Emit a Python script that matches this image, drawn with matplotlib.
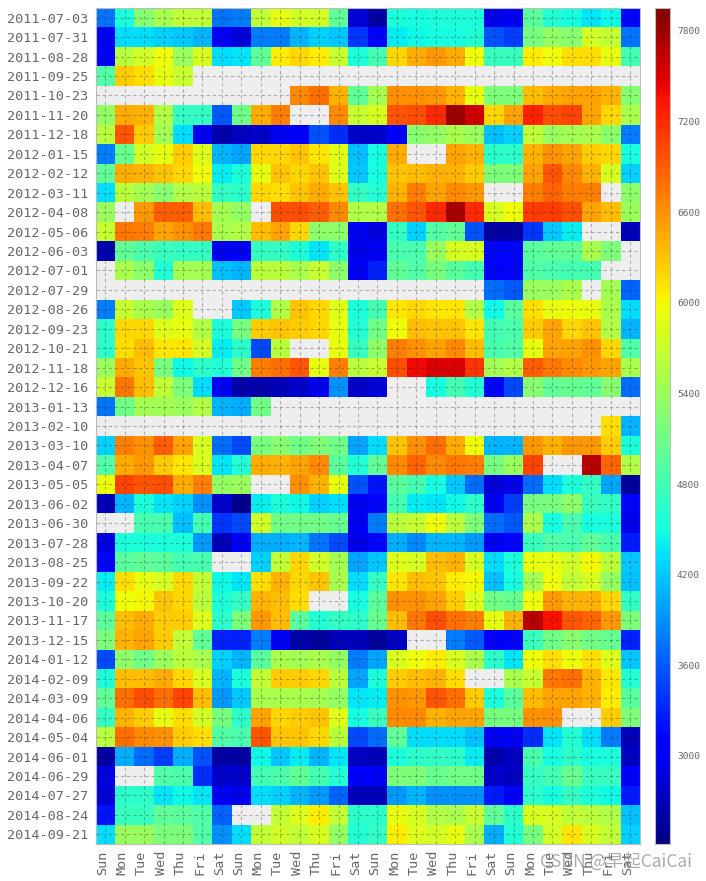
import numpy as np
from matplotlib import pyplot as plt
from matplotlib.transforms import ScaledTranslation

n = np.nan

weekStarts = [
    "2011-07-03", "2011-07-31", "2011-08-28", "2011-09-25", "2011-10-23", "2011-11-20", "2011-12-18",
    "2012-01-15", "2012-02-12", "2012-03-11", "2012-04-08", "2012-05-06", "2012-06-03", "2012-07-01",
    "2012-07-29", "2012-08-26", "2012-09-23", "2012-10-21", "2012-11-18", "2012-12-16", "2013-01-13",
    "2013-02-10", "2013-03-10", "2013-04-07", "2013-05-05", "2013-06-02", "2013-06-30", "2013-07-28",
    "2013-08-25", "2013-09-22", "2013-10-20", "2013-11-17", "2013-12-15", "2014-01-12", "2014-02-09",
    "2014-03-09", "2014-04-06", "2014-05-04", "2014-06-01", "2014-06-29", "2014-07-27", "2014-08-24",
    "2014-09-21",
]
dayLabels = ["Sun", "Mon", "Tue", "Wed", "Thu", "Fri", "Sat"] * 4
cbarTicks = [3000, 3600, 4200, 4800, 5400, 6000, 6600, 7200, 7800]

counts = [
    [3750, 4550, 5250, 5500, 5650, 5650, 3750, 3800, 5650, 5900, 5750, 5750, 5000, 2850, 2600, 4550, 4500, 4550, 4550, 4550, 2950, 3000, 4950, 4600, 4500, 4350, 4450, 3150],
    [3000, 4300, 4300, 4250, 4200, 4100, 3000, 2850, 3800, 3800, 4100, 4250, 4200, 3400, 3050, 4400, 4450, 4500, 4500, 4600, 3550, 3450, 5150, 5350, 5250, 5750, 5650, 3750],
    [3100, 5600, 5750, 5950, 5400, 5800, 4300, 4350, 5000, 6050, 6200, 6050, 5700, 4550, 4800, 6200, 6450, 6550, 6450, 5950, 4750, 4750, 6050, 5950, 6150, 6150, 5900, 4800],
    [4900, 6250, 6150, 5900, 5700, n, n, n, n, n, n, n, n, n, n, n, n, n, n, n, n, n, n, n, n, n, n, n],
    [n, n, n, n, n, n, n, n, n, n, 6650, 6800, 6400, 5000, 5450, 6600, 6600, 6550, 6400, 5900, 5200, 5200, 6350, 6450, 6500, 6500, 6400, 5250],
    [5350, 6450, 6400, 5550, 4700, 4700, 3600, 5100, 6450, 6700, n, n, 6650, 5700, 5800, 6950, 7000, 7200, 7800, 7550, 6200, 6500, 7250, 7000, 7050, 6500, 6200, 5500],
    [5600, 6950, 6250, 5450, 4300, 3000, 2650, 2750, 2800, 3000, 3100, 3550, 3350, 2800, 2800, 3050, 5250, 5350, 5500, 5400, 4150, 4250, 5650, 5400, 5450, 5500, 5300, 3800],
    [3800, 5050, 5750, 5900, 6250, 5850, 4100, 4000, 6200, 6200, 6300, 6100, 5850, 4150, 4500, 6450, n, n, 6500, 6400, 4650, 4650, 6400, 6600, 6500, 6250, 6200, 4500],
    [5000, 6450, 6400, 6300, 6200, 5950, 4400, 4550, 5900, 6300, 6200, 6300, 5850, 4200, 4500, 6300, 6350, 6400, 6400, 6250, 5200, 5200, 6500, 6950, 6650, 6400, 5800, 4250],
    [4300, 5600, 5450, 5250, 5550, 5600, 4700, 4650, 6200, 6150, 6300, 6450, 6300, 4700, 4600, 6400, 6700, 6500, 6650, 6550, n, n, 6700, 6850, 6700, 6700, n, 5300],
    [5400, n, 6550, 6900, 6900, 6350, 5450, 5350, n, 7000, 7000, 6900, 6650, 5550, 5550, 6800, 6950, 7200, 7750, 7200, 5800, 5950, 7100, 7100, 7000, 6500, 6350, 5400],
    [5700, 6750, 6700, 6500, 6600, 6750, 5500, 5550, 6350, 6500, 6200, 5300, 5300, 3000, 2900, 4700, 4250, 4900, 5000, 3550, 2600, 2600, 3400, 4200, 4400, n, n, 2700],
    [2650, 5000, 4850, 4750, 4700, 4700, 3000, 3000, 4700, 4700, 4550, 4350, 4650, 2950, 3000, 4850, 4850, 5400, 5800, 5800, 3150, 3150, 4950, 5000, 5000, 5500, 5200, n],
    [n, 5500, 5300, 4600, 5450, 5450, 4150, 4100, 5600, 5600, 5500, 5700, 5300, 3000, 3300, 5000, 4900, 5150, 4950, 4800, 3100, 3150, 4900, 4850, 4800, 4800, n, n],
    [n, n, n, n, n, n, n, n, n, n, n, n, n, n, n, n, n, n, n, n, 3700, 3600, 5400, 5400, 5500, n, 5450, 3650],
    [3800, 5700, 5500, 5400, 5850, n, n, 4200, 4550, 5550, 6300, 6200, 5850, 4550, 4800, 6100, 6200, 6100, 6100, 5550, 4450, 4950, 6150, 5900, 5950, 5900, 5500, 4300],
    [4650, 6200, 6200, 5850, 5900, 5550, 4550, 5150, 6250, 6300, 6250, 6200, 5900, 4600, 5100, 5950, 6350, 6300, 6300, 6100, 4800, 4850, 6250, 6500, 6200, 6300, 5550, 4100],
    [4650, 6150, 6350, 6100, 6100, 5750, 4400, 4650, 3500, 5600, n, n, 5900, 4750, 5300, 6700, 6600, 6500, 6650, 6350, 4850, 4900, 5900, 6500, 6500, 6600, 6200, 4900],
    [5400, 6450, 6300, 5150, 4450, 4650, 4600, 5100, 6700, 6800, 6950, 5900, 6700, 5600, 5700, 7000, 7400, 7500, 7500, 7150, 5450, 5550, 6900, 6750, 6650, 6550, 6500, 5500],
    [5700, 6750, 6350, 5650, 5200, 4300, 3000, 2650, 2650, 2700, 2800, 2950, 3900, 2800, 2850, n, n, 4500, 4800, 4600, 3150, 3500, 5250, 5000, 5050, 5000, 5250, 3700],
    [3750, 5100, 5450, 5450, 5400, 5550, 4100, 4050, 5100, n, n, n, n, n, n, n, n, n, n, n, n, n, n, n, n, n, n, n],
    [n, n, n, n, n, n, n, n, n, n, n, n, n, n, n, n, n, n, n, n, n, n, n, n, n, n, 6150, 4100],
    [4250, 6700, 6600, 6900, 6500, 5800, 3700, 3500, 5150, 5250, 5100, 5200, 5100, 4000, 4300, 6300, 6600, 6800, 6450, 5950, 4100, 4100, 6550, 6400, 6550, 6550, 6250, 4550],
    [4900, 6450, 6550, 6250, 6100, 5800, 4350, 4600, 6450, 6400, 6500, 6650, 4950, 4600, 5000, 6650, 6850, 6650, 6750, 6700, 5150, 5400, 7050, n, n, 7650, 6850, 5550],
    [5950, 7050, 6950, 7000, 6450, 6700, 5350, 5400, n, n, 6600, 6400, 5900, 3550, 3200, 4950, 4800, 4500, 4200, 3700, 2850, 2950, 3700, 4300, 4550, 4700, 4000, 2550],
    [2700, 4100, 4550, 4350, 4250, 3900, 2800, 2500, 4400, 4550, 4450, 4250, 4300, 3000, 3150, 4800, 4400, 4350, 4450, 4650, 3000, 3450, 5150, 5150, 5300, 4750, 4700, 3150],
    [n, n, 4850, 4850, 4150, 4800, 3400, 3500, 5750, 5100, 5100, 5100, 5050, 3000, 3800, 5600, 5700, 5950, 5600, 5200, 3700, 3600, 5500, 4500, 4850, 4500, 4550, 2950],
    [2900, 4550, 4550, 4550, 4550, 3950, 2700, 3000, 4050, 4050, 4100, 3750, 3500, 2950, 3150, 4050, 3850, 4100, 4100, 3950, 3000, 3150, 4750, 4900, 4850, 5000, 4850, 3250],
    [3150, 4950, 5000, 4950, 4800, 4850, n, n, 4250, 5650, 6200, 5750, 5450, 4000, 4200, 5850, 5800, 6350, 6400, 5800, 4300, 4550, 5900, 5900, 5750, 6000, 5600, 4200],
    [4400, 6150, 5900, 5800, 6200, 5650, 4450, 4350, 6150, 6400, 6200, 6300, 5500, 4300, 4700, 6100, 6350, 6300, 6050, 6000, 4150, 4500, 5450, 5950, 5650, 5800, 5350, 4150],
    [4550, 5950, 6000, 6300, 6200, 5600, 4550, 4700, 6400, 6350, 6150, n, n, 4500, 4950, 6600, 6600, 6500, 6250, 5850, 5100, 5050, 5950, 6550, 6400, 6400, 6200, 4700],
    [4950, 6350, 6450, 6250, 6250, 5850, 4650, 5200, 6550, 6350, 4950, 4600, 4700, 4650, 5050, 6350, 6750, 7000, 6800, 6700, 5900, 6400, 7650, 7350, 6950, 6850, 6550, 5200],
    [5200, 6400, 6500, 6250, 5650, 5000, 3300, 3300, 3800, 3000, 2650, 2550, 2700, 2700, 2550, 2750, n, n, 3800, 3600, 3050, 3100, 4750, 5100, 5250, 5100, 5050, 3300],
    [3500, 5300, 5100, 5400, 5600, 5500, 4250, 4100, 4950, 5500, 5450, 5500, 5350, 3800, 4000, 5800, 5950, 6050, 5800, 5500, 4650, 4350, 5950, 6150, 5950, 6150, 5850, 4200],
    [4550, 6350, 6350, 6450, 6200, 5800, 4100, 4550, 5650, 6250, 6250, 6200, 5600, 4000, 4550, 6250, 6350, 6400, 6150, n, n, 5500, 5700, 6750, 6800, 6400, 6100, 4600],
    [5000, 6800, 7000, 6800, 7050, 6350, 3950, 4200, 5500, 5500, 5500, 5450, 5350, 4350, 4400, 6600, 6550, 6950, 6800, 6250, 4550, 4950, 6350, 6500, 6500, 6400, 6050, 4950],
    [4700, 6400, 6250, 5900, 6150, 5750, 5150, 4650, 6500, 6200, 6250, 6300, 5850, 4500, 4750, 6650, 6650, 6400, 6500, 6500, 5150, 5150, 6600, 6600, n, n, 6250, 5200],
    [5600, 6800, 6650, 6600, 6250, 6150, 4900, 4850, 6950, 6300, 6300, 6200, 5600, 3500, 3700, 5000, 4300, 4300, 4300, 4150, 3000, 3000, 3350, 4350, 4600, 4300, 3800, 2700],
    [2600, 4050, 3700, 3450, 4050, 3550, 2600, 2600, 4450, 4200, 4400, 4100, 4350, 2750, 2700, 4550, 4650, 4700, 4650, 4400, 2650, 2750, 4850, 4500, 4650, 4500, 4550, 2750],
    [2900, n, n, 4900, 4850, 3350, 2800, 2800, 4800, 4850, 5000, 4800, 4600, 3050, 3050, 5200, 5200, 5050, 5100, 5100, 2800, 2750, 4700, 4800, 5050, 4750, 4750, 3100],
    [2850, 4650, 4650, 4350, 4450, 4350, 3000, 2950, 4300, 4250, 4100, 3950, 3650, 2700, 2700, 3950, 4100, 3900, 3900, 3900, 3250, 3100, 4650, 4500, 4700, 4550, 4450, 3250],
    [3200, 4750, 4750, 5000, 4950, 4900, 3650, n, n, 5650, 5850, 6050, 5650, 4650, 4650, 5900, 5800, 5550, 5500, 5700, 5000, 4650, 5800, 5800, 5650, 5600, 5550, 4150],
    [4300, 5400, 5400, 5200, 5200, 4900, 3900, 4300, 5650, 5750, 5650, 5800, 5350, 4600, 4700, 6050, 5850, 5750, 5900, 5500, 4050, 4600, 5150, 5750, 6100, 5800, 5650, 4250],
]

plt.style.use("bmh")
plt.rcParams["font.family"] = ["DejaVu Sans Mono"]

fig = plt.figure(figsize=(7.06, 8.81), dpi=100)
ax = fig.add_axes([95.5 / 706, 1 - 844 / 881, 544.5 / 706, 836 / 881])
cax = fig.add_axes([655 / 706, 1 - 844 / 881, 15 / 706, 836 / 881])

data = np.ma.masked_invalid(np.array(counts, dtype=float))
mesh = ax.pcolormesh(data, cmap="jet", vmin=2417, vmax=7952)
ax.invert_yaxis()
ax.set_xticks(np.arange(len(dayLabels)) + 0.5)
ax.set_xticklabels(dayLabels, rotation=90, fontsize=9.7, color="#666666")
ax.set_yticks(np.arange(len(weekStarts)) + 0.5)
ax.set_yticklabels(weekStarts, fontsize=9.7, color="#666666")
ax.tick_params(length=0, pad=5)
ax.set_axisbelow(False)
ax.grid(True, color="#222222", alpha=0.32, linestyle=(0, (3, 2.5)), linewidth=0.8)

# day labels sit a little left of the cell centres
shift = ScaledTranslation(-2.5 / 100, 0, fig.dpi_scale_trans)
for label in ax.get_xticklabels():
    label.set_transform(label.get_transform() + shift)

cbar = fig.colorbar(mesh, cax=cax)
cbar.set_ticks(cbarTicks)
cbar.ax.tick_params(length=0, labelsize=6.8, labelcolor="#666666", pad=5)
cbar.ax.grid(False)
cbar.outline.set_edgecolor("#bcbcbc")

fig.text(
    692 / 706,
    1 - 862 / 881,
    "CSDN @早起CaiCai",
    ha="right",
    va="center",
    fontsize=12.5,
    color="#888888",
    alpha=0.7,
    family=["Noto Sans CJK SC", "DejaVu Sans"],
)

fig.savefig("out.png", dpi=100)
